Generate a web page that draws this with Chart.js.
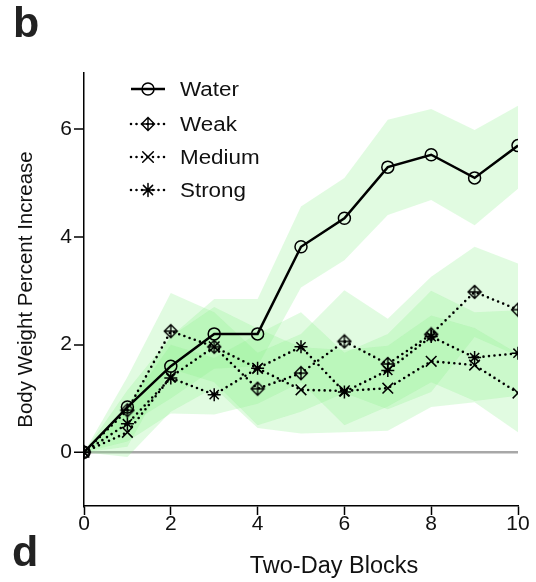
<!DOCTYPE html>
<html>
<head>
<meta charset="utf-8">
<script src="https://cdn.jsdelivr.net/npm/chart.js@4/dist/chart.umd.min.js"></script>
<style>
  body { margin: 0; background: #fff; }
  #wrap { position: relative; width: 536px; height: 582px; }
  .panel { position: absolute; font: bold 43px "Liberation Sans", Arial, sans-serif; color: #222; line-height: 1; }
</style>
</head>
<body>
<div id="wrap">
  <canvas id="chart" width="536" height="582"></canvas>
  <div class="panel" style="left:13px; top:1px;">b</div>
  <div class="panel" style="left:12px; top:530px;">d</div>
</div>
<script>
// two-day blocks
const blocks = [0, 1, 2, 3, 4, 5, 6, 7, 8, 9, 10];
const yTicks = [0, 2, 4, 6];

// mean body weight percent increase
const water  = [0, 0.84, 1.60, 2.20, 2.20, 3.82, 4.35, 5.30, 5.53, 5.10, 5.70];
const weak   = [0, 0.78, 2.25, 1.96, 1.18, 1.47, 2.06, 1.64, 2.19, 2.98, 2.65];
const medium = [0, 0.37, 1.40, 1.96, 1.56, 1.16, 1.14, 1.19, 1.69, 1.62, 1.10];
const strong = [0, 0.53, 1.38, 1.07, 1.56, 1.96, 1.12, 1.52, 2.15, 1.76, 1.84];

// shaded error bands (upper / lower)
const waterHi  = [0, 1.15, 2.15, 2.85, 2.85, 4.57, 5.10, 6.18, 6.38, 5.99, 6.44];
const waterLo  = [0, 0.50, 1.00, 1.55, 1.60, 3.06, 3.57, 4.41, 4.69, 4.22, 4.90];
const weakHi   = [0, 1.40, 2.96, 2.60, 1.85, 2.20, 3.01, 2.48, 3.26, 3.82, 3.51];
const weakLo   = [0, 0.10, 1.55, 1.30, 0.50, 0.75, 1.10, 0.80, 1.12, 2.14, 1.79];
const mediumHi = [0, 0.85, 2.15, 2.70, 2.30, 1.95, 1.90, 1.98, 2.54, 2.31, 1.83];
const mediumLo = [0, -0.09, 0.75, 1.20, 0.45, 0.35, 0.37, 0.40, 0.84, 0.93, 0.37];
const strongHi = [0, 0.85, 2.00, 1.75, 2.20, 2.60, 1.85, 2.20, 3.00, 2.60, 2.64];
const strongLo = [0, 0.20, 0.72, 0.70, 0.90, 1.30, 0.50, 0.85, 1.30, 0.95, 1.05];

const FONT = '"Liberation Sans", Arial, sans-serif';
const BAND = 'rgba(140, 238, 140, 0.26)';

function pts(arr) {
    return blocks.map((x, i) => ({ x: x, y: arr[i] }));
}

// diamond with a cross inside, for the Weak series
function diamondCross() {
    const c = document.createElement('canvas');
    c.width = 16; c.height = 16;
    const g = c.getContext('2d');
    g.strokeStyle = '#000';
    g.lineWidth = 1.4;
    g.beginPath();
    g.moveTo(8, 1.5); g.lineTo(14.5, 8); g.lineTo(8, 14.5); g.lineTo(1.5, 8); g.closePath();
    g.moveTo(8, 1.5); g.lineTo(8, 14.5);
    g.moveTo(1.5, 8); g.lineTo(14.5, 8);
    g.stroke();
    return c;
}
const weakMarker = diamondCross();

function series(label, data, style, dashed, radius) {
    return {
        label: label,
        data: pts(data),
        borderColor: '#000',
        borderWidth: dashed ? 2.6 : 2.5,
        borderDash: dashed ? [0, 5.5] : [],
        borderCapStyle: dashed ? 'round' : 'butt',
        pointStyle: style,
        pointRadius: radius,
        pointBorderColor: '#000',
        pointBackgroundColor: 'rgba(0,0,0,0)',
        pointBorderWidth: 1.5,
        fill: false,
        tension: 0,
        order: 0,
        isSeries: true
    };
}

function band(data, fillTo) {
    return {
        data: pts(data),
        borderWidth: 0,
        pointRadius: 0,
        backgroundColor: BAND,
        fill: fillTo,
        tension: 0,
        order: 1
    };
}

// legend lines and the x title, drawn on top
const legendPlugin = {
    id: 'sideLegend',
    afterDraw(chart) {
        const ctx = chart.ctx;
        const rows = [89, 124, 157, 190];
        const sets = chart.data.datasets.filter(d => d.isSeries);
        sets.forEach((ds, i) => {
            const y = rows[i];
            ctx.save();
            ctx.strokeStyle = '#000';
            ctx.lineWidth = ds.borderWidth;
            ctx.lineCap = ds.borderCapStyle;
            ctx.setLineDash(ds.borderDash);
            ctx.beginPath();
            ctx.moveTo(131, y);
            ctx.lineTo(165, y);
            ctx.stroke();
            ctx.setLineDash([]);
            ctx.lineWidth = ds.pointBorderWidth;
            ctx.fillStyle = 'rgba(0,0,0,0)';
            Chart.helpers.drawPoint(ctx, {
                pointStyle: ds.pointStyle,
                radius: ds.pointRadius,
                rotation: 0,
                borderWidth: ds.pointBorderWidth
            }, 148, y);
            ctx.fillStyle = '#111';
            ctx.font = '20px ' + FONT;
            ctx.textBaseline = 'middle';
            ctx.translate(180, y + 1);
            ctx.scale(1.12, 1);
            ctx.fillText(ds.label, 0, 0);
            ctx.restore();
        });

        ctx.save();
        ctx.fillStyle = '#111';
        ctx.font = '23.5px ' + FONT;
        ctx.textAlign = 'center';
        ctx.textBaseline = 'middle';
        ctx.fillText('Two-Day Blocks', 334, 567);
        ctx.restore();
    }
};

new Chart(document.getElementById('chart'), {
    type: 'line',
    data: {
        datasets: [
            series('Water', water, 'circle', false, 6),
            series('Weak', weak, weakMarker, true, 6),
            series('Medium', medium, 'crossRot', true, 7.5),
            series('Strong', strong, 'star', true, 6.5),
            band(waterHi, '+1'), band(waterLo, false),
            band(weakHi, '+1'), band(weakLo, false),
            band(mediumHi, '+1'), band(mediumLo, false),
            band(strongHi, '+1'), band(strongLo, false)
        ]
    },
    options: {
        responsive: false,
        animation: false,
        layout: { padding: { left: 0, right: 18, top: 73, bottom: 0 } },
        plugins: {
            legend: { display: false },
            tooltip: { enabled: false }
        },
        scales: {
            x: {
                type: 'linear',
                min: 0,
                max: 10,
                afterFit: s => { s.height = 76; },
                ticks: { stepSize: 2, color: '#111', padding: -3, font: { family: FONT, size: 21 } },
                grid: { drawOnChartArea: false, tickLength: 9, color: '#000', tickWidth: 1.5 },
                border: { color: '#000', width: 1.5 },
                title: { display: false }
            },
            y: {
                min: -1,
                max: 7.05,
                afterFit: s => { s.width = 84; },
                afterBuildTicks: s => { s.ticks = yTicks.map(v => ({ value: v })); },
                ticks: { color: '#111', padding: 2, font: { family: FONT, size: 21 } },
                grid: {
                    drawOnChartArea: true,
                    tickLength: 10,
                    tickColor: '#000',
                    tickWidth: 1.5,
                    color: c => (c.tick && c.tick.value === 0) ? '#a8a8a8' : 'rgba(0,0,0,0)',
                    lineWidth: c => (c.tick && c.tick.value === 0) ? 2.5 : 0
                },
                border: { color: '#000', width: 1.5 },
                title: { display: true, text: 'Body Weight Percent Increase', color: '#111', padding: { top: 14, bottom: 0 }, font: { family: FONT, size: 20.5 } }
            }
        }
    },
    plugins: [legendPlugin]
});
</script>
</body>
</html>
